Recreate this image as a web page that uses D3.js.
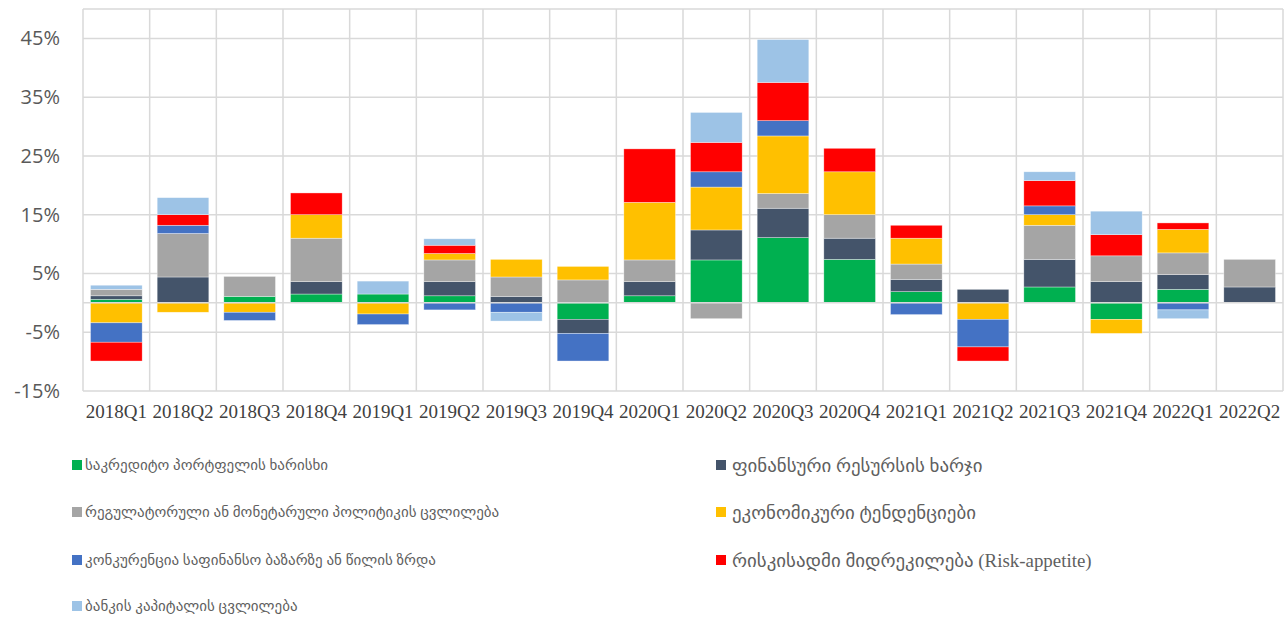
<!DOCTYPE html>
<html>
<head>
<meta charset="utf-8">
<script src="https://cdn.jsdelivr.net/npm/d3@7/dist/d3.min.js"></script>
<style>
  html, body { margin: 0; padding: 0; background: #fff; }
  svg { display: block; }
</style>
</head>
<body>
<svg id="chart" width="1288" height="620"></svg>
<script>
// Quarters on the category axis
const quarters = ["2018Q1","2018Q2","2018Q3","2018Q4","2019Q1","2019Q2","2019Q3","2019Q4",
  "2020Q1","2020Q2","2020Q3","2020Q4","2021Q1","2021Q2","2021Q3","2021Q4","2022Q1","2022Q2"];

// Factor contributions, % (one value per quarter)
const creditPortfolio = [0.6, 0.0, 1.1, 1.5, 1.5, 1.2, 0.0, -2.8, 1.2, 7.3, 11.1, 7.4, 1.9, 0.0, 2.7, -2.8, 2.3, 0.0];
const fundingCost     = [0.6, 4.4, 0.0, 2.1, 0.0, 2.4, 1.1, -2.4, 2.4, 5.1, 5.0, 3.6, 2.1, 2.3, 4.7, 3.6, 2.5, 2.7];
const regulatory      = [1.1, 7.4, 3.4, 7.4, 0.0, 3.7, 3.3, 3.9, 3.7, -2.7, 2.5, 4.0, 2.6, 0.0, 5.8, 4.4, 3.7, 4.7];
const economic        = [-3.4, -1.6, -1.6, 4.0, -1.9, 1.1, 3.0, 2.3, 9.8, 7.3, 9.8, 7.3, 4.4, -2.8, 1.8, -2.4, 4.0, 0.0];
const competition     = [-3.3, 1.4, -1.4, 0.0, -1.8, -1.2, -1.6, -4.7, 0.0, 2.6, 2.6, 0.0, -2.0, -4.7, 1.5, 0.0, -1.2, 0.0];
const riskAppetite    = [-3.2, 1.8, 0.0, 3.7, 0.0, 1.4, 0.0, 0.0, 9.1, 5.0, 6.5, 4.0, 2.2, -2.4, 4.3, 3.6, 1.1, 0.0];
const bankCapital     = [0.7, 2.9, 0.0, 0.0, 2.2, 1.1, -1.5, 0.0, 0.0, 5.1, 7.3, 0.0, 0.0, 0.0, 1.5, 4.0, -1.5, 0.0];

// Series names as shown in the legend
const seriesNames = [
  "საკრედიტო პორტფელის ხარისხი",
  "ფინანსური რესურსის ხარჯი",
  "რეგულატორული ან მონეტარული პოლიტიკის ცვლილება",
  "ეკონომიკური ტენდენციები",
  "კონკურენცია საფინანსო ბაზარზე ან წილის ზრდა",
  "რისკისადმი მიდრეკილება (Risk-appetite)",
  "ბანკის კაპიტალის ცვლილება"
];

// Y axis tick values (%)
const yTicks = [-15, -5, 5, 15, 25, 35, 45];

const seriesValues = [creditPortfolio, fundingCost, regulatory, economic, competition, riskAppetite, bankCapital];
const colors = ["#00B050", "#44546A", "#A5A5A5", "#FFC000", "#4472C4", "#FF0000", "#9DC3E6"];

const svg = d3.select("#chart");
const plot = { left: 83, right: 1283, top: 9, bottom: 391 };

const x = d3.scaleBand().domain(quarters).range([plot.left, plot.right]).paddingInner(0.225).paddingOuter(0.1125);
const y = d3.scaleLinear().domain([-15, 50]).range([plot.bottom, plot.top]);

const gridColor = "#D9D9D9";

// Horizontal gridlines
svg.append("g").selectAll("line").data(yTicks.concat([50])).join("line")
  .attr("x1", plot.left).attr("x2", plot.right)
  .attr("y1", d => y(d)).attr("y2", d => y(d))
  .attr("stroke", gridColor).attr("stroke-width", 1.5);

// Vertical category separators
const bandStep = x.step();
const sepXs = d3.range(quarters.length + 1).map(i => plot.left + i * bandStep);
svg.append("g").selectAll("line").data(sepXs).join("line")
  .attr("x1", d => d).attr("x2", d => d)
  .attr("y1", plot.top).attr("y2", plot.bottom)
  .attr("stroke", gridColor).attr("stroke-width", 1.5);

// Stacked bars: positives stack upward, negatives downward, in series order
const segments = [];
quarters.forEach((q, qi) => {
  let pos = 0, neg = 0;
  seriesValues.forEach((vals, si) => {
    const v = vals[qi];
    if (v === 0) return;
    if (v > 0) { segments.push({ q, si, y0: pos, y1: pos + v }); pos += v; }
    else { segments.push({ q, si, y0: neg + v, y1: neg }); neg += v; }
  });
});

svg.append("g").selectAll("rect").data(segments).join("rect")
  .attr("x", d => x(d.q))
  .attr("width", x.bandwidth())
  .attr("y", d => y(d.y1))
  .attr("height", d => y(d.y0) - y(d.y1))
  .attr("fill", d => colors[d.si])
  .attr("stroke", "#ffffff").attr("stroke-width", 0.6).attr("stroke-opacity", 0.6);

// Zero axis line
svg.append("line")
  .attr("x1", plot.left).attr("x2", plot.right)
  .attr("y1", y(0)).attr("y2", y(0))
  .attr("stroke", gridColor).attr("stroke-width", 1.5);

// Y axis labels
const yAxis = d3.axisLeft(y).tickValues(yTicks).tickSize(0).tickPadding(0).tickFormat(d => d + "%");
const yg = svg.append("g").attr("transform", `translate(${plot.left - 23},0)`).call(yAxis);
yg.select(".domain").remove();
yg.selectAll("text")
  .attr("font-family", "'Open Sans', sans-serif")
  .attr("font-size", 20)
  .attr("fill", "#595959");

// X axis labels
const xAxis = d3.axisBottom(x).tickSize(0).tickPadding(0);
const xg = svg.append("g").attr("transform", `translate(0,${plot.bottom + 13})`).call(xAxis);
xg.select(".domain").remove();
xg.selectAll("text")
  .attr("font-family", "'Liberation Serif', serif")
  .attr("font-size", 19)
  .attr("fill", "#404040");

// Legend: two columns, filled row by row
const legend = svg.append("g");
const legendCols = [72, 716];
const legendSizes = [15, 18.9];
const legendRows = [465, 512, 560, 606];
seriesNames.forEach((name, i) => {
  const col = i % 2;
  const cx = legendCols[col];
  const cy = legendRows[Math.floor(i / 2)];
  const g = legend.append("g").attr("transform", `translate(${cx},${cy})`);
  g.append("rect").attr("x", 0).attr("y", -5).attr("width", 10).attr("height", 10).attr("fill", colors[i]);
  g.append("text").attr("x", col === 0 ? 13 : 16).attr("y", 0).attr("dy", "0.35em")
    .attr("font-family", "'Liberation Serif', 'DejaVu Sans', serif")
    .attr("font-size", legendSizes[col])
    .attr("fill", "#5f5f5f")
    .text(name);
});
</script>
</body>
</html>
